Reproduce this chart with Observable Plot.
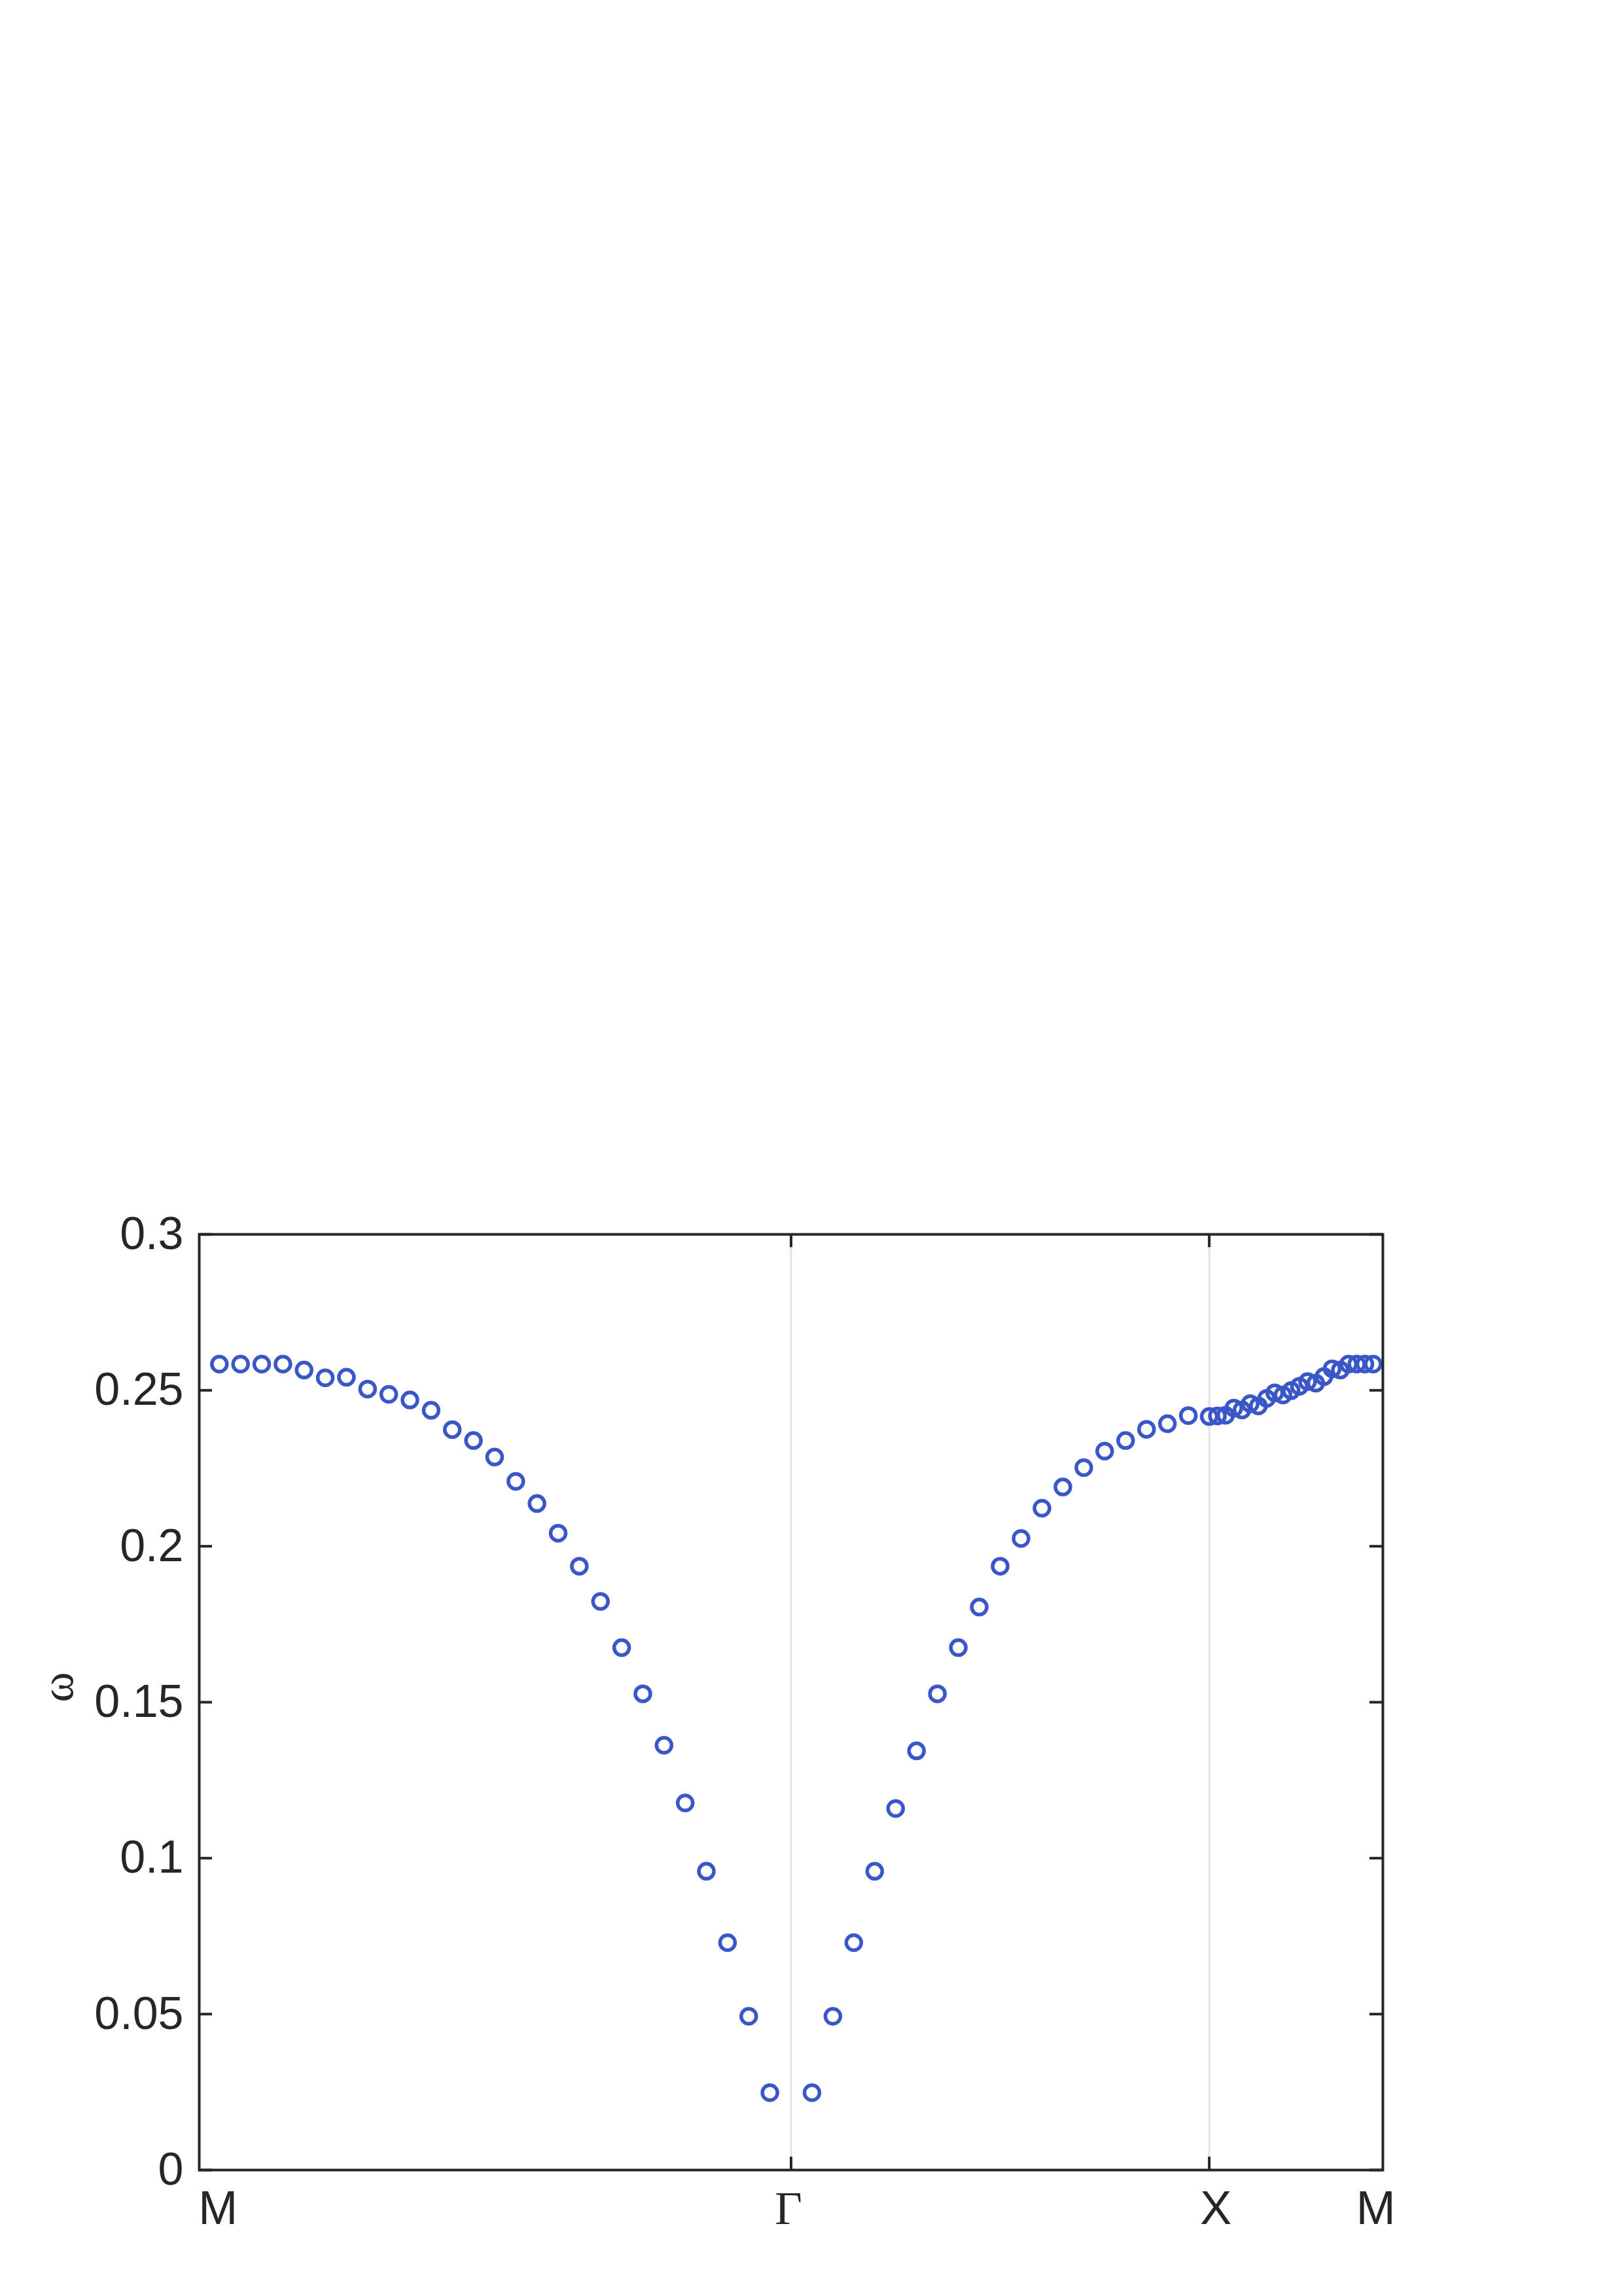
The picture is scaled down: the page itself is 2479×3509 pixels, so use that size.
<!DOCTYPE html>
<html>
<head>
<meta charset="utf-8">
<script src="https://cdn.jsdelivr.net/npm/d3@7"></script>
<script src="https://cdn.jsdelivr.net/npm/@observablehq/plot@0.6"></script>
<style>
  html, body { margin: 0; padding: 0; background: #ffffff; }
  #chart svg { display: block; }
</style>
</head>
<body>
<div id="chart"></div>
<script>
// ---- Data ----
// Symmetry-point positions along the k-path
const symNames = ["M", "Γ", "X", "M"];
const symK = [0, 27, 46.75, 54.49];

// ω along M→Γ (starting at M, Γ itself not plotted)
const wMG = [0.2584, 0.2584, 0.2584, 0.2584, 0.2565, 0.2540, 0.2542, 0.2504, 0.2487,
             0.2469, 0.2436, 0.2374, 0.2339, 0.2286, 0.2208, 0.2137, 0.2042, 0.1936,
             0.1823, 0.1675, 0.1527, 0.1362, 0.1177, 0.0958, 0.0729, 0.0493, 0.0248];
// ω along Γ→X (Γ excluded, X included)
const wGX = [0.0248, 0.0493, 0.0729, 0.0958, 0.1159, 0.1344, 0.1527, 0.1675, 0.1805,
             0.1936, 0.2025, 0.2122, 0.2190, 0.2252, 0.2305, 0.2339, 0.2375, 0.2393,
             0.2419, 0.2416];
// ω along X→M (X excluded, M included)
const wXM = [0.2418, 0.2420, 0.2443, 0.2437, 0.2457, 0.2450, 0.2474, 0.2492, 0.2485,
             0.2499, 0.2513, 0.2528, 0.2523, 0.2544, 0.2569, 0.2565, 0.2584, 0.2584,
             0.2584, 0.2584];

const yTicks = [0, 0.05, 0.1, 0.15, 0.2, 0.25, 0.3];
const yTickLabels = ["0", "0.05", "0.1", "0.15", "0.2", "0.25", "0.3"];

// ---- Build point table: samples evenly spaced within each path segment ----
function segment(values, k0, k1, n, startOffset) {
  return values.map((w, i) => ({k: k0 + (i + startOffset) * (k1 - k0) / n, w}));
}
const points = [
  ...segment(wMG, symK[0], symK[1], wMG.length, 0),
  ...segment(wGX, symK[1], symK[2], wGX.length, 1),
  ...segment(wXM, symK[2], symK[3], wXM.length, 1)
];

// ---- Layout ----
const W = 2479, H = 3509;
const mL = 304, mR = 366, mT = 1886, mB = 193;
const plotW = W - mL - mR, plotH = H - mT - mB;
const ink = "#262626";
const sans = "'Liberation Sans', Arial, Helvetica, sans-serif";
const serif = "'Liberation Serif', 'Times New Roman', serif";
const tickLen = 20;

const innerK = [symK[1], symK[2]];
// small horizontal nudges of each label, as in the reference
const labelNudge = [-2, -4, 10, 4];
const labelFonts = [sans, serif, sans, sans];

const labelMarks = symNames.map((name, i) =>
  Plot.text([{name, k: symK[i]}], {
    x: "k", text: "name", frameAnchor: "bottom", lineAnchor: "top",
    dy: 31, dx: labelNudge[i], fontSize: 72, fill: ink, fontFamily: labelFonts[i]
  })
);

const chart = Plot.plot({
  width: W,
  height: H,
  marginLeft: mL,
  marginRight: mR,
  marginTop: mT,
  marginBottom: mB,
  style: {background: "#ffffff", fontFamily: sans},
  x: {domain: [-0.952, 54.95], axis: null},
  y: {domain: [0, 0.3], axis: null},
  marks: [
    // grid lines at Γ and X
    Plot.ruleX(innerK, {x: d => d, stroke: "#e2e2e2", strokeWidth: 3}),
    // data points
    Plot.dot(points, {x: "k", y: "w", r: 11.5, stroke: "#3a57c9", strokeWidth: 5.5, fill: "none"}),
    // y tick marks (inward) on left and right
    Plot.tickY(yTicks, {y: d => d, stroke: ink, strokeWidth: 4, insetRight: plotW - tickLen}),
    Plot.tickY(yTicks, {y: d => d, stroke: ink, strokeWidth: 4, insetLeft: plotW - tickLen}),
    // x tick marks (inward) at Γ and X, bottom and top
    Plot.tickX(innerK, {x: d => d, stroke: ink, strokeWidth: 4, insetTop: plotH - tickLen}),
    Plot.tickX(innerK, {x: d => d, stroke: ink, strokeWidth: 4, insetBottom: plotH - tickLen}),
    // y tick labels
    Plot.text(yTicks, {
      y: d => d, text: (d, i) => yTickLabels[i], frameAnchor: "left", dx: -24,
      textAnchor: "end", fontSize: 70, fill: ink, fontFamily: sans
    }),
    // x symmetry-point labels
    ...labelMarks,
    // y-axis label
    Plot.text(["ω"], {
      text: d => d, frameAnchor: "left", dx: -216, rotate: -90,
      fontSize: 70, fill: ink, fontFamily: serif
    }),
    // axes box
    Plot.frame({stroke: ink, strokeWidth: 4})
  ]
});

document.getElementById("chart").appendChild(chart);
</script>
</body>
</html>
